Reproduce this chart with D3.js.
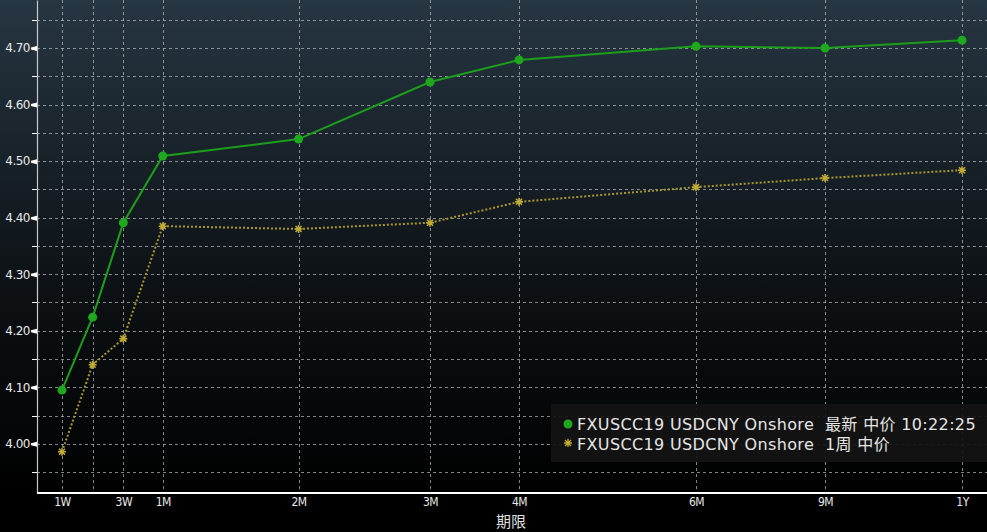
<!DOCTYPE html>
<html><head><meta charset="utf-8">
<script src="https://cdn.jsdelivr.net/npm/d3@7"></script>
<style>html,body{margin:0;padding:0;background:#000;}svg{display:block;}</style>
</head><body>
<svg id="c" width="987" height="532"></svg>
<script>
const tenors = ["1W","2W","3W","1M","2M","3M","4M","6M","9M","1Y"];
const tenorDays = [7,14,21,30,61,91,122,182,273,365];
const tickLabels = ["1W","","3W","1M","2M","3M","4M","6M","9M","1Y"];
const latest = [4.095,4.224,4.391,4.509,4.539,4.640,4.679,4.703,4.700,4.714];
const weekAgo = [3.986,4.140,4.186,4.385,4.380,4.391,4.428,4.454,4.470,4.484];
const yTicks = [4.00,4.10,4.20,4.30,4.40,4.50,4.60,4.70];
const yMinor = [3.95,4.05,4.15,4.25,4.35,4.45,4.55,4.65,4.75];
const seriesNames = ["FXUSCC19 USDCNY Onshore  最新 中价 10:22:25","FXUSCC19 USDCNY Onshore  1周 中价"];
const xTitle = "期限";

const W=987,H=532, L=37, R=987, T=0, B=493;
const svg=d3.select("#c");
const defs=svg.append("defs");
const g=defs.append("linearGradient").attr("id","bg").attr("x1",0).attr("y1",0).attr("x2",0).attr("y2",1);
g.append("stop").attr("offset","0%").attr("stop-color","#263642");
g.append("stop").attr("offset","55%").attr("stop-color","#0e1317");
g.append("stop").attr("offset","100%").attr("stop-color","#000");
svg.append("rect").attr("width",W).attr("height",H).attr("fill","#000");
svg.append("rect").attr("x",0).attr("y",0).attr("width",W).attr("height",B).attr("fill","url(#bg)");

// piecewise x scale on days (Bloomberg compressed tenor axis)
const knots=[7,91,122,182,273,365];
const fr=[0.0263,0.4137,0.5074,0.6937,0.8295,0.9737];
const x=d3.scaleLinear().domain(knots).range(fr.map(f=>L+f*(R-L)));
const y=d3.scaleLinear().domain([3.913,4.785]).range([B,T]);

const grid=svg.append("g").attr("stroke","#b8bcc0").attr("stroke-opacity",0.7).attr("stroke-width",1).attr("stroke-dasharray","3,3");
yTicks.concat(yMinor).forEach(v=>{
  grid.append("line").attr("x1",L).attr("x2",R).attr("y1",Math.round(y(v))+0.5).attr("y2",Math.round(y(v))+0.5);
});
tenorDays.forEach(d=>{
  grid.append("line").attr("x1",Math.round(x(d))+0.5).attr("x2",Math.round(x(d))+0.5).attr("y1",T).attr("y2",B);
});

// y axis
const yAxis=svg.append("g").attr("transform",`translate(${L},0)`)
  .call(d3.axisLeft(y).tickValues(yTicks).tickFormat(d3.format(".2f")).tickSize(0).tickPadding(4));
yAxis.select(".domain").attr("stroke","#c8c8c8").attr("stroke-width",1.2);
yAxis.selectAll("text").attr("fill","#e8e8e8").attr("font-family","DejaVu Sans").attr("font-size",12).attr("letter-spacing","-0.5");
yAxis.selectAll(".tick").append("path").attr("d","M0,-2.5L-6,-1L-6,1L0,2.5Z").attr("fill","#fff");
yAxis.selectAll("text").attr("x",-7);
svg.append("g").selectAll("line").data(yMinor).join("line")
  .attr("x1",L-5).attr("x2",L).attr("y1",d=>Math.round(y(d))+0.5).attr("y2",d=>Math.round(y(d))+0.5).attr("stroke","#fff");

// x axis
const xAxis=svg.append("g").attr("transform",`translate(0,${B})`)
  .call(d3.axisBottom(x).tickValues(tenorDays).tickFormat((d,i)=>tickLabels[i]).tickSize(0).tickPadding(4));
xAxis.select(".domain").attr("stroke","#fff").attr("stroke-width",2).attr("d",`M${L},0H${R}`);
xAxis.selectAll("text").attr("fill","#e8e8e8").attr("font-family","DejaVu Sans Condensed, DejaVu Sans").attr("font-size",12).attr("dy","0.71em").attr("letter-spacing","-0.5");
svg.append("text").attr("x",511).attr("y",527).attr("text-anchor","middle").attr("fill","#e0e0e0")
  .attr("font-family","Noto Sans CJK SC").attr("font-size",15).text(xTitle);

// lines
const line=d3.line().x((d,i)=>x(tenorDays[i])).y(d=>y(d));
svg.append("path").datum(weekAgo).attr("d",line).attr("fill","none").attr("stroke","#a8962e").attr("stroke-width",2).attr("stroke-dasharray","2,2");
svg.append("path").datum(latest).attr("d",line).attr("fill","none").attr("stroke","#1c9e1c").attr("stroke-width",2);
svg.append("g").selectAll("circle").data(latest).join("circle")
  .attr("cx",(d,i)=>x(tenorDays[i])).attr("cy",d=>y(d)).attr("r",4.5).attr("fill","#1da81d");
const starPath="M-4,0H4M0,-4V4M-3,-3L3,3M-3,3L3,-3";
svg.append("g").selectAll("path").data(weekAgo).join("path")
  .attr("transform",(d,i)=>`translate(${x(tenorDays[i])},${y(d)})`).attr("d",starPath)
  .attr("stroke","#c0ab35").attr("stroke-width",1.5).attr("fill","none");

// legend
const lg=svg.append("g");
lg.append("rect").attr("x",551).attr("y",404).attr("width",436).attr("height",58).attr("fill","#141414").attr("fill-opacity",0.92);
lg.append("circle").attr("cx",568).attr("cy",424).attr("r",4.5).attr("fill","#1da81d");
lg.append("path").attr("transform","translate(568,443)").attr("d",starPath).attr("stroke","#c0ab35").attr("stroke-width",1.3);
seriesNames.forEach((s,i)=>{
  lg.append("text").attr("x",577).attr("y",430+i*20).attr("fill","#e6e6e6")
   .attr("font-family","DejaVu Sans, Noto Sans CJK SC").attr("font-size",16).attr("letter-spacing","0.35").style("white-space","pre").text(s);
});
</script>
</body></html>
